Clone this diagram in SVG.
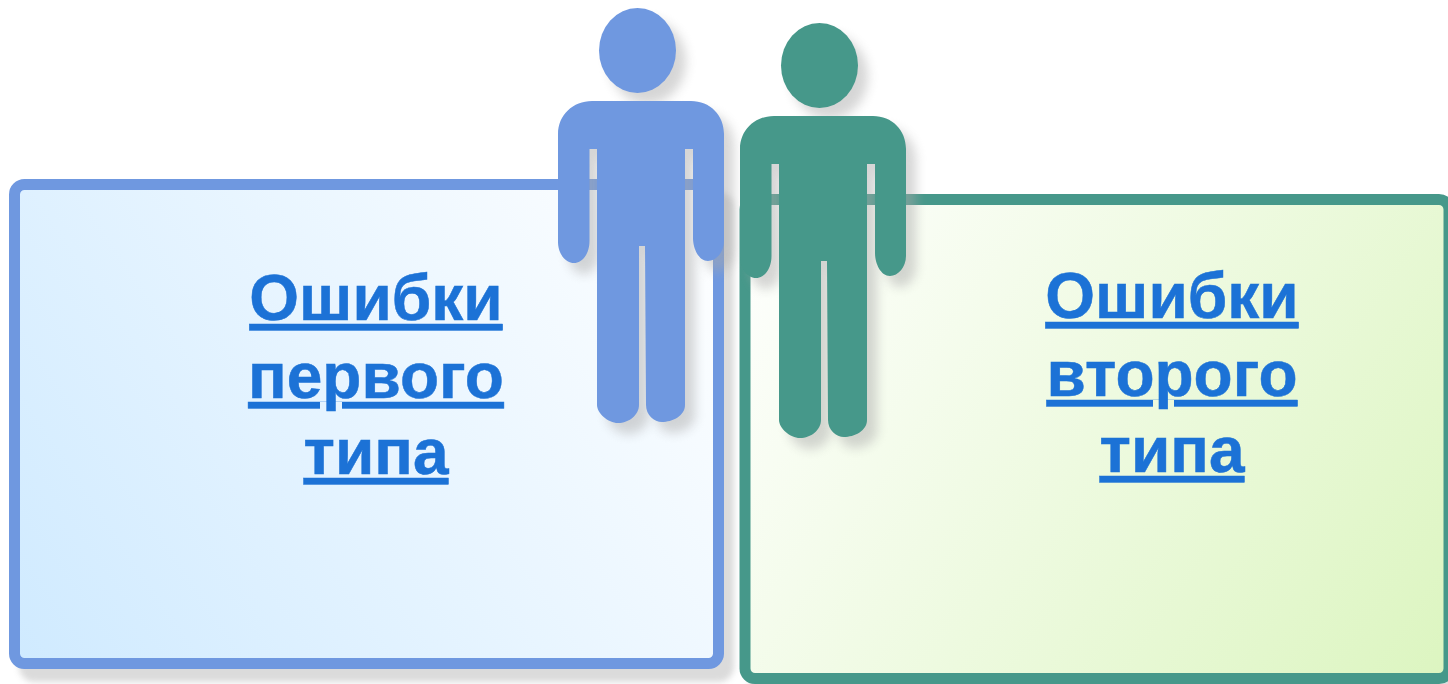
<svg xmlns="http://www.w3.org/2000/svg" xmlns:xlink="http://www.w3.org/1999/xlink" width="1448" height="684" viewBox="0 0 1448 684">
<style>
.lbl{font-family:"Liberation Sans",Arial,sans-serif;font-weight:700;font-size:64px;fill:#1c72d6;stroke:#1c72d6;stroke-width:0.5;text-anchor:middle;text-decoration:underline}
.box{stroke-width:11}
</style>
<defs>
<linearGradient id="g1" gradientUnits="userSpaceOnUse" x1="14" y1="664" x2="719" y2="184">
<stop offset="0" stop-color="#cfeaff"/><stop offset="1" stop-color="#ffffff"/>
</linearGradient>
<linearGradient id="g2" gradientUnits="userSpaceOnUse" x1="745" y1="199" x2="1449" y2="679">
<stop offset="0" stop-color="#ffffff"/><stop offset="1" stop-color="#dcf5c0"/>
</linearGradient>
<filter id="shb" x="-5%" y="-5%" width="112%" height="115%" color-interpolation-filters="sRGB">
<feDropShadow dx="10" dy="13" stdDeviation="3" flood-color="#aaaaaa" flood-opacity="0.42"/>
</filter>
<filter id="shp" x="-20%" y="-20%" width="150%" height="140%" color-interpolation-filters="sRGB">
<feDropShadow dx="10" dy="11" stdDeviation="5.5" flood-color="#aaaaaa" flood-opacity="0.48"/>
</filter>
<g id="person">
<ellipse cx="637.5" cy="50.5" rx="38.5" ry="42.5"/>
<path d="M558 134C558 115 573 101 592 101H691C710 101 724 115 724 134V241C724 252 716 261 708 261C699 261 693 249 693 238V149H685V405C685 416 672 422 662 422C654 422 646 415 646 405L645 246H639V405C639 415 629 423 618 423C608 423 597 413 597 405V149H589.5V241C589.5 253 583 263 574 263C565 263 558 253 558 242Z"/>
</g>
</defs>
<g id="box-first">
<rect class="box" x="14.5" y="184.5" width="704" height="479" rx="10" fill="url(#g1)" stroke="#6f98e0" filter="url(#shb)"/>
<text class="lbl" x="376" y="320">Ошибки</text>
<text class="lbl" x="376" y="398">первого</text>
<text class="lbl" x="376" y="474">типа</text>
</g>
<g id="box-second">
<rect class="box" x="745" y="199.5" width="704" height="479" rx="10" fill="url(#g2)" stroke="#46988a" filter="url(#shb)"/>
<text class="lbl" x="1172" y="318">Ошибки</text>
<text class="lbl" x="1172" y="396">второго</text>
<text class="lbl" x="1172" y="472">типа</text>
</g>
<g id="person-first" fill="#6f98e0" filter="url(#shp)"><use xlink:href="#person" href="#person"/></g>
<g id="person-second" fill="#46988a" filter="url(#shp)"><use xlink:href="#person" href="#person" transform="translate(182 15)"/></g>
</svg>
